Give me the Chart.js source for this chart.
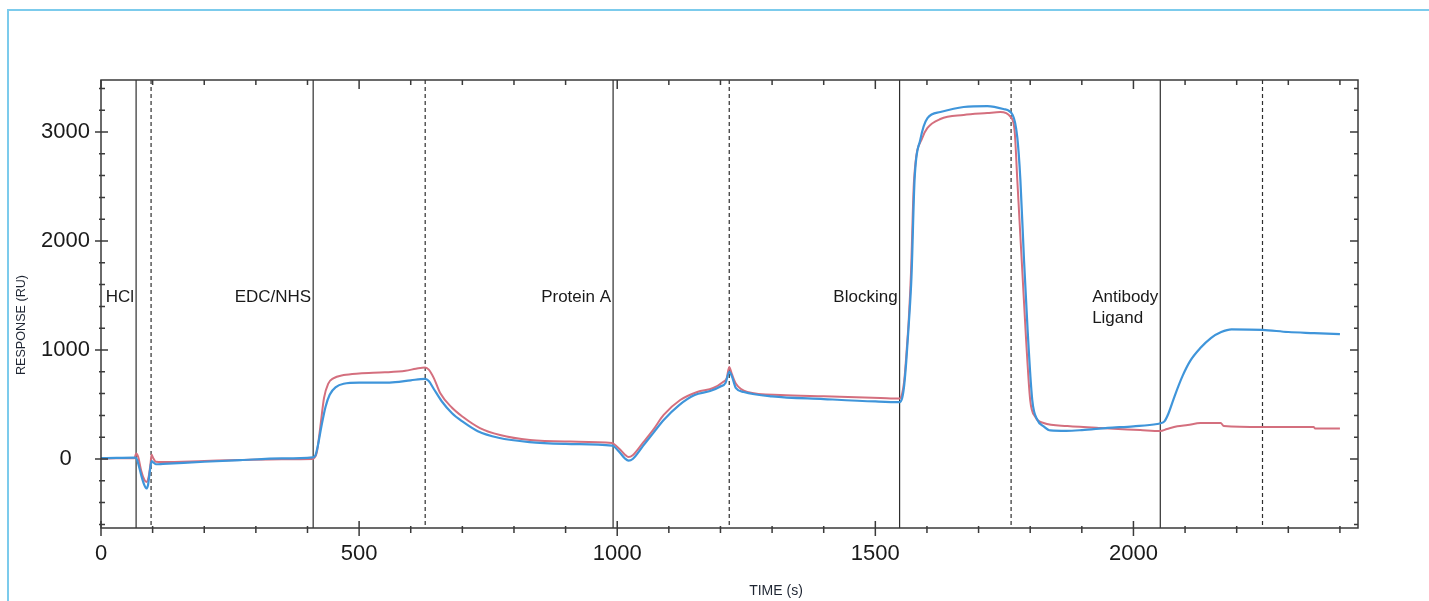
<!DOCTYPE html>
<html>
<head>
<meta charset="UTF-8">
<title>Sensorgram</title>
<script src="https://cdn.jsdelivr.net/npm/chart.js"></script>
<style>
body{margin:0;background:#fff;overflow:hidden;}
#frame{position:absolute;left:7px;top:9px;width:1440px;height:620px;border-left:2px solid #7ccbec;border-top:2px solid #7ccbec;}
#sensor{position:absolute;left:0;top:0;}
</style>
</head>
<body>
<div id="frame"></div>
<canvas id="sensor" width="1429" height="601"></canvas>
<script>
// blue channel (time in s, response in RU)
var blueTime = [0, 30, 65, 68, 72, 78, 84, 88, 91, 95, 98, 101, 106, 120, 200, 270, 350, 410,
  415, 420, 427, 435, 443, 455, 470, 500, 550, 570, 600, 628, 635, 645, 660, 680, 700, 730, 770, 830, 900, 990,
  993, 1005, 1015, 1022, 1030, 1050, 1070, 1090, 1120, 1150, 1180, 1200, 1210, 1217, 1222, 1230, 1245, 1300, 1400, 1500, 1547,
  1552, 1556, 1560, 1565, 1570, 1576, 1587, 1601, 1626, 1671, 1717, 1748, 1766,
  1775, 1781, 1788, 1795, 1804, 1814, 1826, 1839, 1870, 1900, 1950, 2000, 2046,
  2052, 2060, 2068, 2080, 2095, 2110, 2130, 2150, 2170, 2190, 2250, 2300, 2350, 2400];
var blueResp = [8, 10, 12, 10, -40, -150, -240, -270, -240, -100, -20, -30, -48, -45, -25, -10, 5, 15,
  30, 120, 300, 480, 590, 660, 690, 700, 700, 705, 722, 735, 715, 640, 530, 420, 345, 255, 195, 155, 138, 122,
  118, 60, 5, -15, 0, 120, 240, 358, 495, 587, 624, 665, 700, 800, 760, 650, 615, 575, 550, 528, 522,
  560, 680, 900, 1250, 1670, 2560, 2927, 3128, 3183, 3229, 3238, 3211, 3156,
  2950, 2560, 1826, 1183, 541, 358, 300, 262, 258, 265, 285, 300, 321,
  328, 345, 420, 580, 760, 900, 1020, 1110, 1165, 1190, 1185, 1165, 1155, 1145];

// red channel
var redTime = [0, 30, 65, 68, 72, 78, 84, 88, 92, 96, 98, 101, 106, 120, 200, 270, 350, 410,
  413, 418, 425, 432, 440, 450, 470, 500, 550, 590, 610, 628, 635, 645, 657, 680, 700, 734, 773, 831, 909, 990,
  993, 1005, 1015, 1022, 1030, 1050, 1070, 1090, 1122, 1155, 1186, 1205, 1212, 1217, 1222, 1230, 1252, 1316, 1400, 1510, 1547,
  1552, 1556, 1560, 1565, 1569, 1575, 1591, 1601, 1626, 1671, 1717, 1742, 1762,
  1770, 1775, 1785, 1792, 1800, 1810, 1826, 1872, 1936, 2013, 2052,
  2065, 2085, 2105, 2130, 2169, 2175, 2250, 2349, 2352, 2400];
var redResp = [5, 6, 8, 50, 20, -110, -190, -210, -170, -40, 40, 10, -25, -28, -18, -9, -2, 0,
  10, 60, 300, 560, 690, 740, 770, 785, 795, 810, 828, 840, 820, 740, 605, 470, 390, 284, 220, 174, 160, 147,
  140, 90, 40, 18, 35, 150, 270, 404, 541, 615, 651, 706, 740, 845, 780, 690, 615, 587, 575, 560, 555,
  600, 720, 950, 1300, 1700, 2560, 2945, 3037, 3119, 3156, 3174, 3183, 3138,
  3000, 2560, 1700, 1100, 541, 385, 330, 303, 284, 266, 257,
  275, 300, 312, 330, 330, 303, 294, 294, 280, 280];

// injection markers
var injStart = [68, 411, 992, 1547, 2052];
var injEnd = [97, 628, 1217, 1763, 2250];
var injLabel = [['HCl'], ['EDC/NHS'], ['Protein A'], ['Blocking'], ['Antibody', 'Ligand']];

var xMin = 0, xMax = 2435;
var yMin = -633, yMax = 3477;

function toPoints(t, v) {
  var out = [];
  for (var i = 0; i < t.length; i++) out.push({x: t[i], y: v[i]});
  return out;
}

var sensorFrame = {
  id: 'sensorFrame',
  beforeDatasetsDraw: function(chart) {
    var ctx = chart.ctx, a = chart.chartArea, xs = chart.scales.x;
    ctx.save();
    ctx.strokeStyle = '#2e2e2e';
    ctx.lineWidth = 1.2;
    for (var i = 0; i < injStart.length; i++) {
      var px = xs.getPixelForValue(injStart[i]);
      ctx.setLineDash([]);
      ctx.beginPath(); ctx.moveTo(px, a.top); ctx.lineTo(px, a.bottom); ctx.stroke();
      var pe = xs.getPixelForValue(injEnd[i]);
      ctx.setLineDash([4, 3]);
      ctx.beginPath(); ctx.moveTo(pe, a.top); ctx.lineTo(pe, a.bottom); ctx.stroke();
    }
    ctx.setLineDash([]);
    ctx.font = '17px "Liberation Sans", Arial, sans-serif';
    ctx.fillStyle = '#1a1a1a';
    ctx.textBaseline = 'middle';
    ctx.textAlign = 'left';
    for (var j = 0; j < injLabel.length; j++) {
      var lines = injLabel[j], w = 0;
      for (var k = 0; k < lines.length; k++) w = Math.max(w, ctx.measureText(lines[k]).width);
      var lx = xs.getPixelForValue(injStart[j]) - 2 - w;
      for (var k = 0; k < lines.length; k++) ctx.fillText(lines[k], lx, a.top + 217 + k * 21);
    }
    ctx.restore();
  },
  afterDraw: function(chart) {
    var ctx = chart.ctx, a = chart.chartArea, xs = chart.scales.x, ys = chart.scales.y;
    ctx.save();
    ctx.strokeStyle = '#3a3a3a';
    ctx.lineWidth = 1.5;
    ctx.strokeRect(a.left, a.top, a.right - a.left, a.bottom - a.top);
    ctx.beginPath();
    xs.ticks.forEach(function(t) {
      var px = xs.getPixelForValue(t.value);
      var major = t.value % 500 === 0;
      ctx.moveTo(px, a.bottom - (major ? 7 : 2)); ctx.lineTo(px, a.bottom + (major ? 8 : 5));
      ctx.moveTo(px, a.top); ctx.lineTo(px, a.top + (major ? 9 : 5));
    });
    ys.ticks.forEach(function(t) {
      var py = ys.getPixelForValue(t.value);
      var major = t.value % 1000 === 0;
      ctx.moveTo(a.left - (major ? 6 : 2), py); ctx.lineTo(a.left + (major ? 7 : 4), py);
      ctx.moveTo(a.right, py); ctx.lineTo(a.right - (major ? 8 : 4), py);
    });
    ctx.stroke();
    ctx.fillStyle = '#1f2633';
    ctx.textAlign = 'center';
    ctx.textBaseline = 'middle';
    ctx.font = '14px "Liberation Sans", Arial, sans-serif';
    ctx.fillText('TIME (s)', 776, 591);
    ctx.translate(22, 325);
    ctx.rotate(-Math.PI / 2);
    ctx.font = '12.6px "Liberation Sans", Arial, sans-serif';
    ctx.fillText('RESPONSE (RU)', 0, 0);
    ctx.restore();
  }
};

var chart = new Chart(document.getElementById('sensor').getContext('2d'), {
  type: 'line',
  data: {
    datasets: [{
      label: 'Channel 1',
      data: toPoints(blueTime, blueResp),
      borderColor: '#3f95da',
      borderWidth: 2.2,
      pointRadius: 0,
      cubicInterpolationMode: 'monotone',
      fill: false
    }, {
      label: 'Channel 2',
      data: toPoints(redTime, redResp),
      borderColor: '#d46f7e',
      borderWidth: 2,
      pointRadius: 0,
      cubicInterpolationMode: 'monotone',
      fill: false
    }]
  },
  options: {
    responsive: false,
    animation: false,
    layout: {padding: {top: 80, right: 71, left: 0, bottom: 0}},
    plugins: {legend: {display: false}, tooltip: {enabled: false}},
    scales: {
      x: {
        type: 'linear',
        min: xMin,
        max: xMax,
        grid: {display: false, drawTicks: false},
        border: {display: false},
        afterFit: function(s) { s.height = 73; },
        ticks: {
          stepSize: 100,
          includeBounds: false,
          autoSkip: false,
          maxRotation: 0,
          padding: 13,
          color: '#1a1a1a',
          font: {family: '"Liberation Sans", Arial, sans-serif', size: 22},
          callback: function(v) { return v % 500 === 0 ? String(v) : ''; }
        }
      },
      y: {
        min: yMin,
        max: yMax,
        grid: {display: false, drawTicks: false},
        border: {display: false},
        afterFit: function(s) { s.width = 101; },
        ticks: {
          stepSize: 200,
          includeBounds: false,
          autoSkip: false,
          crossAlign: 'center',
          padding: 11,
          color: '#1a1a1a',
          font: {family: '"Liberation Sans", Arial, sans-serif', size: 22},
          callback: function(v) { return v % 1000 === 0 ? String(v) : ''; }
        }
      }
    }
  },
  plugins: [sensorFrame]
});
</script>
</body>
</html>
